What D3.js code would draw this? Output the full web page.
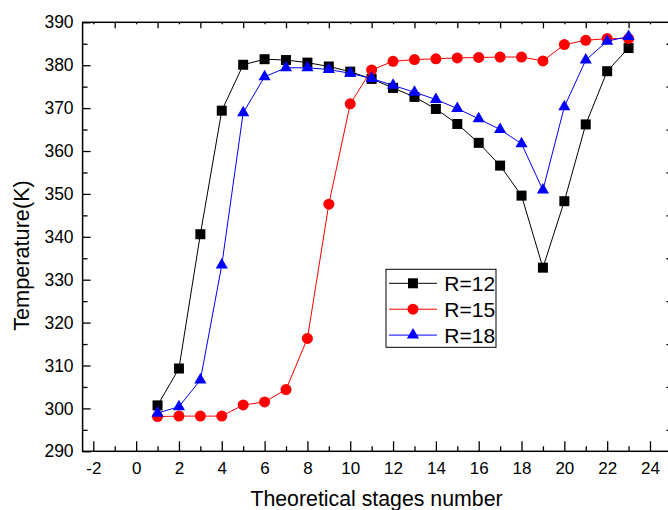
<!DOCTYPE html>
<html>
<head>
<meta charset="utf-8">
<script src="https://cdn.jsdelivr.net/npm/d3@7"></script>
<style>
  html, body { margin: 0; padding: 0; background: #fff; }
  svg { display: block; font-family: "Liberation Sans", Arial, sans-serif; }
</style>
</head>
<body>
<svg id="chart" width="668" height="510"></svg>
<script>
// Theoretical stage numbers
const stages = [1, 2, 3, 4, 5, 6, 7, 8, 9, 10, 11, 12, 13, 14, 15, 16, 17, 18, 19, 20, 21, 22, 23];

// Stage temperatures (K) for each reflux ratio
const tempR12 = [300.7, 309.3, 340.6, 369.4, 380.1, 381.4, 381.2, 380.6, 379.7, 378.5, 376.8, 374.7, 372.6, 369.8, 366.3, 361.9, 356.6, 349.6, 332.8, 348.3, 366.2, 378.6, 384.0];
const tempR15 = [298.1, 298.2, 298.2, 298.2, 300.8, 301.5, 304.4, 316.3, 347.6, 371.0, 378.9, 380.9, 381.3, 381.5, 381.7, 381.8, 381.9, 381.9, 381.0, 384.8, 385.8, 386.2, 386.2];
const tempR18 = [298.9, 300.4, 306.6, 333.4, 368.9, 377.3, 379.4, 379.4, 379.0, 378.1, 376.9, 375.3, 373.7, 372.0, 369.9, 367.5, 365.0, 361.7, 350.9, 370.3, 381.2, 385.6, 386.7];

// Axis tick values
const xMajorTicks = [-2, 0, 2, 4, 6, 8, 10, 12, 14, 16, 18, 20, 22, 24];
const xMinorTicks = [-1, 1, 3, 5, 7, 9, 11, 13, 15, 17, 19, 21, 23];
const yMajorTicks = [290, 300, 310, 320, 330, 340, 350, 360, 370, 380, 390];
const yMinorTicks = [295, 305, 315, 325, 335, 345, 355, 365, 375, 385];

const seriesNames = ["R=12", "R=15", "R=18"];
const seriesColors = ["#000000", "#ff0000", "#0000ff"];
const seriesSymbols = [d3.symbolSquare, d3.symbolCircle, d3.symbolTriangle];
const seriesSizes = [100, 95, 64];

const series = [tempR12, tempR15, tempR18].map((vals, i) => ({
  name: seriesNames[i],
  color: seriesColors[i],
  symbol: seriesSymbols[i],
  size: seriesSizes[i],
  points: stages.map((s, j) => ({ x: s, y: vals[j] }))
}));

const svg = d3.select("#chart");
svg.append("rect").attr("width", 668).attr("height", 510).attr("fill", "#fff");

const x = d3.scaleLinear().domain([-2.5, 25]).range([82.6, 671.4]);
const y = d3.scaleLinear().domain([290, 390]).range([451.3, 22.3]);

const x0 = x.range()[0], x1 = x.range()[1];
const y0 = y.range()[0], y1 = y.range()[1];

// plain hyphen for negative tick labels
const intFormat = d => String(d);

function styleAxis(g) {
  g.select(".domain").remove();
  g.selectAll(".tick line").attr("stroke", "#000").attr("stroke-width", 1.3);
}

// Bottom axis: labelled majors, inward ticks
svg.append("g")
  .attr("transform", `translate(0,${y0})`)
  .call(d3.axisBottom(x).tickValues(xMajorTicks).tickSizeInner(-10).tickSizeOuter(0).tickPadding(11).tickFormat(intFormat))
  .call(styleAxis)
  .call(g => g.selectAll("text").attr("fill", "#000").attr("font-size", 17).attr("font-family", "Liberation Sans, Arial, sans-serif"));
svg.append("g")
  .attr("transform", `translate(0,${y0})`)
  .call(d3.axisBottom(x).tickValues(xMinorTicks).tickSizeInner(-5).tickSizeOuter(0).tickFormat(""))
  .call(styleAxis);

// Top axis: unlabelled
svg.append("g")
  .attr("transform", `translate(0,${y1})`)
  .call(d3.axisTop(x).tickValues(xMinorTicks).tickSizeInner(-6).tickSizeOuter(0).tickFormat(""))
  .call(styleAxis);
svg.append("g")
  .attr("transform", `translate(0,${y1})`)
  .call(d3.axisTop(x).tickValues(xMajorTicks).tickSizeInner(-2).tickSizeOuter(0).tickFormat(""))
  .call(styleAxis);

// Left axis
svg.append("g")
  .attr("transform", `translate(${x0},0)`)
  .call(d3.axisLeft(y).tickValues(yMajorTicks).tickSizeInner(-8).tickSizeOuter(0).tickPadding(9).tickFormat(intFormat))
  .call(styleAxis)
  .call(g => g.selectAll("text").attr("fill", "#000").attr("font-size", 17.5).attr("font-family", "Liberation Sans, Arial, sans-serif"));
svg.append("g")
  .attr("transform", `translate(${x0},0)`)
  .call(d3.axisLeft(y).tickValues(yMinorTicks).tickSizeInner(-5).tickSizeOuter(0).tickFormat(""))
  .call(styleAxis);

// Right axis
svg.append("g")
  .attr("transform", `translate(${x1},0)`)
  .call(d3.axisRight(y).tickValues(yMinorTicks).tickSizeInner(-5).tickSizeOuter(0).tickFormat(""))
  .call(styleAxis);

// Plot frame
svg.append("rect")
  .attr("x", x0).attr("y", y1)
  .attr("width", x1 - x0).attr("height", y0 - y1)
  .attr("fill", "none").attr("stroke", "#000").attr("stroke-width", 1.5);

// Series lines and markers
const line = d3.line().x(d => x(d.x)).y(d => y(d.y));
series.forEach(s => {
  const g = svg.append("g");
  g.append("path")
    .datum(s.points)
    .attr("d", line)
    .attr("fill", "none")
    .attr("stroke", s.color)
    .attr("stroke-width", 1);
  g.selectAll("path.marker")
    .data(s.points)
    .join("path")
    .attr("class", "marker")
    .attr("transform", d => `translate(${x(d.x)},${y(d.y)})`)
    .attr("d", d3.symbol().type(s.symbol).size(s.size))
    .attr("fill", s.color);
});

// Axis titles
svg.append("text")
  .attr("x", (x(-2.5) + x(25)) / 2 - 0.5)
  .attr("y", 506)
  .attr("text-anchor", "middle")
  .attr("font-size", 21.3)
  .attr("fill", "#000")
  .text("Theoretical stages number");

svg.append("text")
  .attr("transform", "translate(29,255.5) rotate(-90)")
  .attr("text-anchor", "middle")
  .attr("font-size", 21.7)
  .attr("fill", "#000")
  .text("Temperature(K)");

// Legend
const legend = svg.append("g").attr("transform", "translate(386,269.3)");
legend.append("rect")
  .attr("width", 110).attr("height", 78)
  .attr("fill", "#fff").attr("stroke", "#000").attr("stroke-width", 1);
series.forEach((s, i) => {
  const cy = 14 + i * 25.9;
  const row = legend.append("g").attr("transform", `translate(0,${cy})`);
  row.append("line")
    .attr("x1", 3).attr("x2", 51)
    .attr("stroke", s.color).attr("stroke-width", 1);
  row.append("path")
    .attr("transform", "translate(27,0)")
    .attr("d", d3.symbol().type(s.symbol).size(s.size))
    .attr("fill", s.color);
  row.append("text")
    .attr("x", 58.3)
    .attr("y", 7.4)
    .attr("font-size", 21)
    .attr("fill", "#000")
    .text(s.name);
});
</script>
</body>
</html>
